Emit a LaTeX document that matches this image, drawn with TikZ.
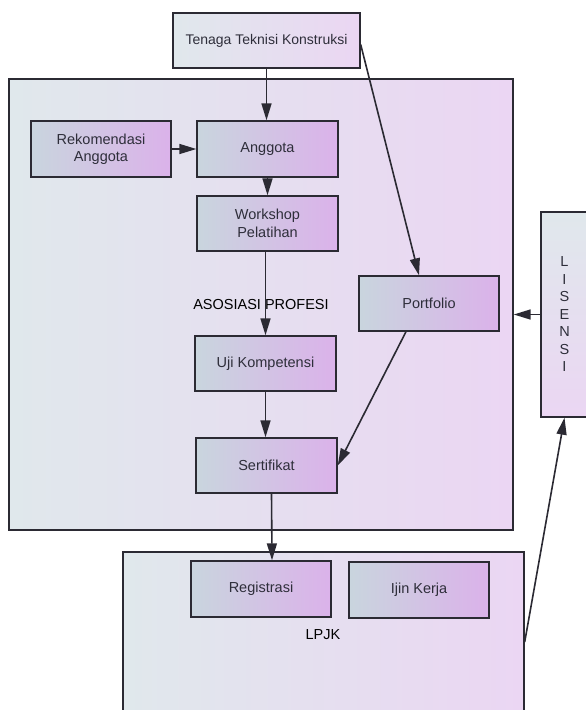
\documentclass[tikz,border=0pt]{standalone}
\usepackage{fontspec}
\setmainfont{Liberation Sans}
\usetikzlibrary{arrows.meta}
\definecolor{edge}{HTML}{2B2A33}
\definecolor{txt}{HTML}{2E2E3A}
\definecolor{panelL}{HTML}{E0E8EC}
\definecolor{panelR}{HTML}{EBD6F3}
\definecolor{boxL}{HTML}{C9D5DE}
\definecolor{boxR}{HTML}{DBB2EA}
\begin{document}
\begin{tikzpicture}[
    x=1pt,
    y=-1pt,
    panel/.style={draw=edge,line width=1.4pt,left color=panelL,right color=panelR,inner sep=0pt},
    stepbox/.style={draw=edge,line width=1.4pt,left color=boxL,right color=boxR,inner sep=0pt,
      minimum width=141pt,minimum height=56pt,align=center,text=txt,
      font=\fontsize{14.5}{17.5}\selectfont},
    grouplabel/.style={text=black,font=\fontsize{14.5}{17.5}\selectfont},
    flow/.style={-{Triangle[length=17pt,width=10pt]},line width=1.6pt,draw=edge}
  ]
    \useasboundingbox (0,0) rectangle (586,710);

    % outer groups
    \node[panel,minimum width=504pt,minimum height=451pt] (asosiasi) at (261,304.5) {};
    \node[panel,minimum width=401pt,minimum height=168pt] (lpjk) at (323.5,636) {};
    \node[panel,top color=panelL,bottom color=panelR,minimum width=47pt,minimum height=205pt,
      align=center,text=txt,font=\fontsize{14.5}{17.5}\selectfont]
      (lisensi) at (564.5,314.5) {L\\I\\S\\E\\N\\S\\I};
    \node[panel,minimum width=187pt,minimum height=55pt,text=txt,
      font=\fontsize{14}{17}\selectfont] (tenaga) at (266.5,40.5) {Tenaga Teknisi Konstruksi};

    \node[grouplabel] (asosiasilabel) at (261,305) {ASOSIASI PROFESI};
    \node[grouplabel] (lpjklabel) at (323,635) {LPJK};

    % steps
    \node[stepbox,minimum width=140pt] (rekomendasi) at (101,149) {Rekomendasi\\Anggota};
    \node[stepbox] (anggota) at (267.5,149) {Anggota};
    \node[stepbox,minimum height=55pt] (workshop) at (267.5,223.5) {Workshop\\Pelatihan};
    \node[stepbox,minimum height=55pt] (uji) at (265.5,363.5) {Uji Kompetensi};
    \node[stepbox,minimum height=55pt] (sertifikat) at (266.5,465.5) {Sertifikat};
    \node[stepbox,minimum width=140pt,minimum height=55pt] (portfolio) at (429,303.5) {Portfolio};
    \node[stepbox,minimum width=140pt] (registrasi) at (261,589) {Registrasi};
    \node[stepbox,minimum width=140pt] (ijin) at (419,590) {Ijin Kerja};

    % connectors
    \draw[flow] (tenaga.south) -- (tenaga.south |- anggota.north);
    \draw[flow] (rekomendasi.east) -- (anggota.west);
    \draw[flow] (anggota.south) -- (anggota.south |- workshop.north);
    \draw[flow] (uji.north |- workshop.south) -- (uji.north);
    \draw[flow] (uji.south) -- (uji.south |- sertifikat.north);
    \draw[flow] ([yshift=-4pt]tenaga.east) -- ([xshift=-10pt]portfolio.north);
    \draw[flow] ([xshift=-23pt]portfolio.south) -- (sertifikat.east);
    \draw[flow] (lisensi.west) -- (lisensi.west -| asosiasi.east);
    \draw[flow] ([xshift=5pt]sertifikat.south) -- ([xshift=11pt]registrasi.north);
    \draw[flow] ([yshift=-6pt]lpjk.east) -- (lisensi.south);
  \end{tikzpicture}
\end{document}
